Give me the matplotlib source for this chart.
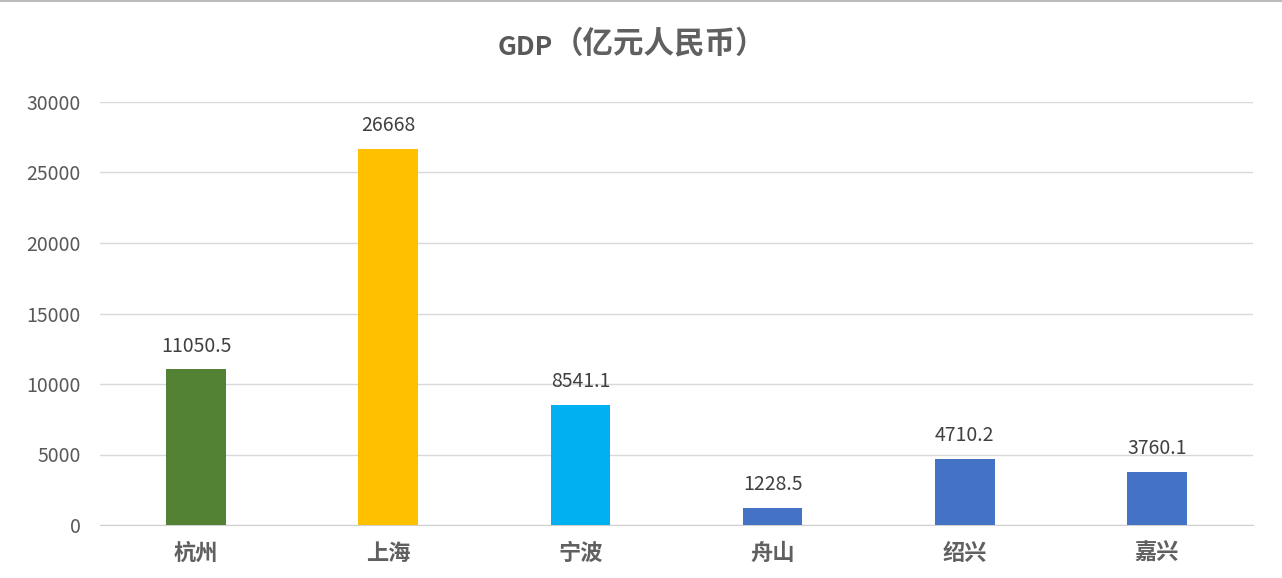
import matplotlib
matplotlib.use("Agg")
import matplotlib.pyplot as plt

plt.rcParams['font.family'] = ['Noto Sans CJK SC', 'DejaVu Sans']

cities = ["杭州", "上海", "宁波", "舟山", "绍兴", "嘉兴"]
gdp = [11050.5, 26668, 8541.1, 1228.5, 4710.2, 3760.1]
labels = ["11050.5", "26668", "8541.1", "1228.5", "4710.2", "3760.1"]
colors = ["#548235", "#FFC000", "#00B0F0", "#4472C4", "#4472C4", "#4472C4"]
yticks = [0, 5000, 10000, 15000, 20000, 25000, 30000]
title_latin = "GDP"
title_cjk = "（亿元人民币）"

fig = plt.figure(figsize=(12.82, 5.78), dpi=100)
fig.patch.set_facecolor("white")
ax = fig.add_axes([100 / 1282, 1 - 525 / 578, 1153 / 1282, 423 / 578])

x = list(range(len(cities)))
ax.bar(x, gdp, width=0.31, color=colors, zorder=3)
for xi, v, lab in zip(x, gdp, labels):
    ax.annotate(lab, (xi, v), xytext=(0, 9), textcoords="offset points",
                ha="center", va="bottom", fontsize=14, color="#404040",
                fontweight="light")

ax.set_xlim(-0.5, len(cities) - 0.5)
ax.set_ylim(0, 30000)
ax.set_yticks(yticks)
ax.set_yticklabels([str(t) for t in yticks])
ax.set_xticks(x)
ax.set_xticklabels(cities, fontsize=16, color="#606060", fontweight="bold")
ax.tick_params(axis="y", labelsize=14, labelcolor="#595959", length=0, pad=14)
ax.tick_params(axis="x", length=0, pad=12)
ax.grid(axis="y", color="#D9D9D9", linewidth=1.0, zorder=0)
for s in ["top", "right", "left"]:
    ax.spines[s].set_visible(False)
ax.spines["bottom"].set_color("#D0D0D0")

ty = 1 - 55 / 578
fig.text(553 / 1282, ty, title_latin, ha="right", va="baseline",
         fontsize=19, fontweight="bold", color="#595959")
fig.text(553 / 1282, ty + 0.004, title_cjk, ha="left", va="baseline",
         fontsize=22, fontweight="bold", color="#606060")
fig.add_artist(plt.Line2D([0, 1], [0.998, 0.998], color="#BBBBBB", linewidth=1.5))

fig.savefig("out.png", dpi=100, facecolor="white")
